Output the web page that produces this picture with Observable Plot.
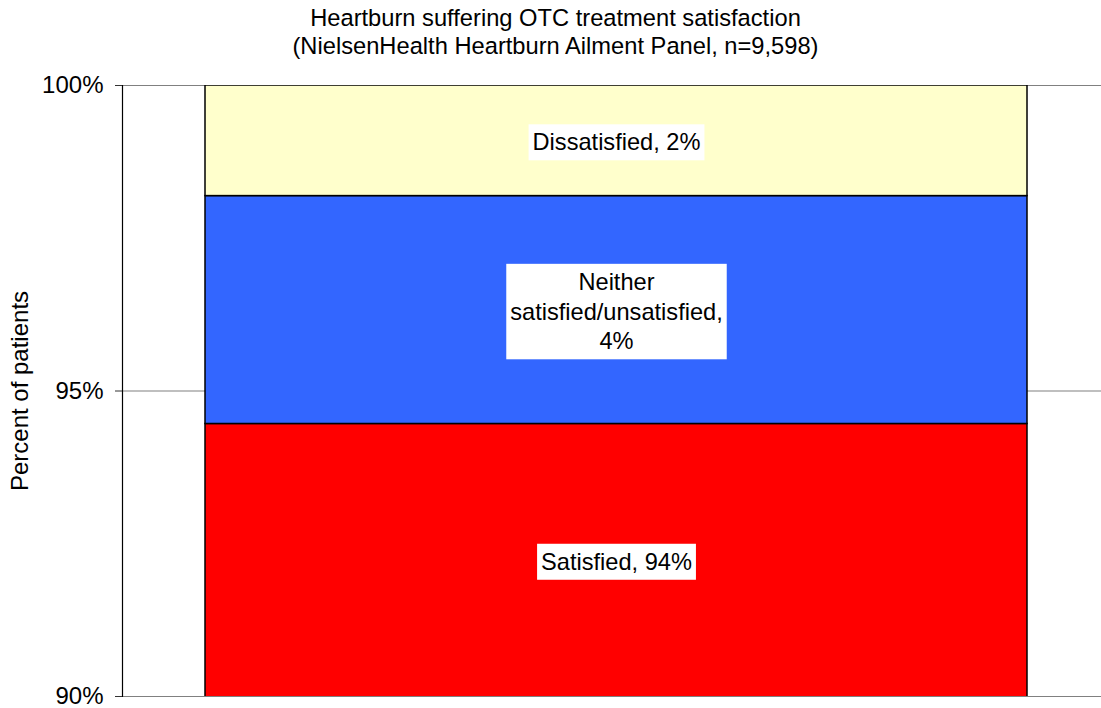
<!DOCTYPE html>
<html>
<head>
<meta charset="utf-8">
<script src="https://cdn.jsdelivr.net/npm/d3@7"></script>
<script src="https://cdn.jsdelivr.net/npm/@observablehq/plot@0.6"></script>
<style>
  html, body { margin: 0; padding: 0; background: #fff; }
  body { width: 1101px; height: 708px; overflow: hidden; font-family: "Liberation Sans", Arial, sans-serif; }
  #title { height: 70px; box-sizing: border-box; padding-top: 4px; padding-left: 10px; text-align: center; font-size: 23.7px; line-height: 28px; color: #000; }
  #chart svg { display: block; }
</style>
</head>
<body>
<div id="title">Heartburn suffering OTC treatment satisfaction<br>(NielsenHealth Heartburn Ailment Panel, n=9,598)</div>
<div id="chart"></div>
<script>
const categories = ["Satisfied", "Neither satisfied/unsatisfied", "Dissatisfied"];
const values = [94.46, 3.73, 1.81];
const segmentLabels = ["Satisfied, 94%", "Neither\nsatisfied/unsatisfied,\n4%", "Dissatisfied, 2%"];
const colors = ["#ff0000", "#3366ff", "#ffffcc"];
const yTicks = [90, 95, 100];
const yDomain = [90, 100];
const yTitle = "Percent of patients";

let acc = 0;
const rows = categories.map((c, i) => {
  const y1 = acc; acc += values[i];
  const lo = Math.max(y1, yDomain[0]), hi = Math.min(acc, yDomain[1]);
  return {group: "All", category: c, y1, y2: acc, mid: (lo + hi) / 2, label: segmentLabels[i], color: colors[i]};
});

const chart = Plot.plot({
  width: 1101,
  height: 638,
  marginTop: 15,
  marginBottom: 12,
  marginLeft: 122,
  marginRight: 0,
  style: {fontFamily: '"Liberation Sans", Arial, sans-serif', background: "#fff", color: "#000"},
  x: {type: "band", domain: ["All"], paddingInner: 0, paddingOuter: 0.0948, align: 0.526, axis: null},
  y: {domain: yDomain, ticks: yTicks, tickFormat: d => d + "%", label: null, axis: null},
  marks: [
    Plot.ruleY(yTicks, {stroke: "#808080", strokeWidth: 1.2}),
    Plot.barY(rows, {x: "group", y1: "y1", y2: "y2", fill: "color", stroke: "#000", strokeWidth: 1.5, clip: true}),
    Plot.frame({anchor: "left", stroke: "#000", strokeWidth: 1.2}),
    Plot.axisY({ticks: yTicks, tickFormat: d => d + "%", tickSize: 7, tickPadding: 12, fontSize: 24, label: null, stroke: "#333"}),
    Plot.text([yTitle], {frameAnchor: "left", textAnchor: "middle", text: d => d, rotate: -90, dx: -102, fontSize: 24, fill: "#000"}),
    Plot.text(rows, {x: "group", y: "mid", text: "label", fontSize: 23.6, lineHeight: 1.26, fill: "#000"})
  ]
});
document.getElementById("chart").appendChild(chart);

// white boxes behind segment labels
const textGroups = chart.querySelectorAll('g[aria-label="text"]');
const labelGroup = textGroups[textGroups.length - 1];
labelGroup.querySelectorAll("text").forEach(t => {
  const b = t.getBBox();
  const padX = 4, padY = 6;
  const r = document.createElementNS("http://www.w3.org/2000/svg", "rect");
  r.setAttribute("x", b.x - padX);
  r.setAttribute("y", b.y - padY + 1);
  r.setAttribute("width", b.width + 2 * padX);
  r.setAttribute("height", b.height + 2 * padY - 2);
  r.setAttribute("fill", "#fff");
  const tr = t.getAttribute("transform");
  if (tr) r.setAttribute("transform", tr);
  t.parentNode.insertBefore(r, t);
});
</script>
</body>
</html>
